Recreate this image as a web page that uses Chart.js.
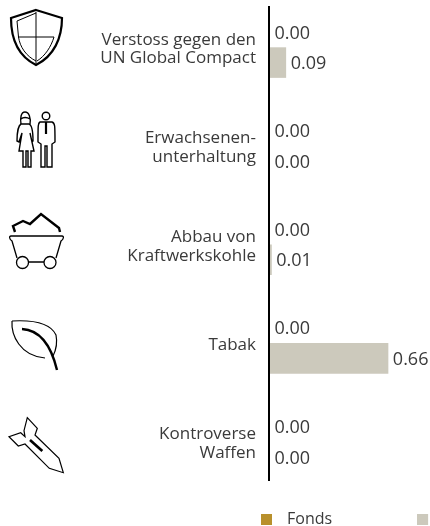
<!DOCTYPE html>
<html><head><meta charset="utf-8">
<style>
html,body{margin:0;padding:0;background:#fff;width:430px;height:526px;overflow:hidden}
#wrap{position:absolute;left:0;top:-2px;width:530px;height:528px}
svg{position:absolute;left:0;top:0}
</style>
<script src="https://cdn.jsdelivr.net/npm/chart.js@4"></script>
</head><body>
<div id="wrap"><canvas id="c" width="530" height="528"></canvas></div>
<svg width="215" height="526" fill="none" stroke="#000" stroke-linejoin="miter">
<g stroke-width="2.2"><path d="M36 10 L62 18 C62 38 54 56 36 65 C18 56 11 38 11 18 Z"/></g>
<g stroke-width="1"><path d="M36 12 V64 M18 37 H54 M36 13 L17 21 L18.5 37 C20 47 26 56 36 61 M54 37 C51 47 45 56 37 61"/></g>
<g stroke-width="1.4">
<path d="M21 124 C20 118 21 112 25 112 C29 112 31 118 30 124 M21 119 C23 117 27 117 30 119"/>
<path d="M21 124 C19 125 17 131 17 141 L19 142 L22 133 L19 151 L23 151 V167 H26 V151 H28 V167 H31 V151 H34 L30 133 L32 142 L33 141 C33 131 32 125 29 124 Z"/>
<circle cx="46" cy="116" r="3.8"/>
<path d="M40 122 C38 123 38 125 38 142 L41 144 V167 H45 V146 H47 V167 H52 V144 L55 142 C55 125 55 123 52 122 Z"/>
<path d="M46 122 V134" stroke-width="2.2"/>
</g>
<g transform="translate(0,200)">
<path d="M15 32 L13 26 L23 21 L30 24 L41 14 L59 28 L60 32" stroke-width="2.4"/>
<path d="M11 36 H62 C64 36 64 39 61 41 L56 58 M11 36 C9 36 9 39 12 41 L17 58 M28 62 H44" stroke-width="1.3"/>
<circle cx="22.500" cy="62.500" r="6" stroke-width="1.3"/><circle cx="50" cy="62.500" r="6" stroke-width="1.3"/>
<path d="M12 121 C30 120 50 122 56 135 C58 145 55 152 53 156 M12 121 C11 135 20 156 45 158" stroke-width="1.2"/>
<path d="M22 129 C40 130 51 145 57 170" stroke-width="2.4"/>
</g>
<g transform="translate(0,380)" stroke-width="1.2">
<path d="M27.300 37.700 L37.300 48.300 L35 55 L59 78.300 L63.300 92.700 L49.300 88.300 L25 64 L18.300 66 L9 56.700 L20.700 52.700 L25 56.700 L24 50.700 Z"/>
<path d="M30 60 L42.300 71" stroke-width="2.6"/>
</g>
</svg>
<script>
const categories = [["Verstoss gegen den","UN Global Compact"],["Erwachsenen-","unterhaltung"],["Abbau von","Kraftwerkskohle"],["Tabak"],["Kontroverse","Waffen"]];
const fondsValues = [0.00,0.00,0.00,0.00,0.00];
const benchmarkValues = [0.09,0.00,0.01,0.66,0.00];
const seriesNames = ["Fonds","Benchmark"];
const seriesColors = ["#b8902c","#ccc9bc"];
const FONT = '"Open Sans"';
const TXT = '#3a3a3a';
const swatch = (col)=>{const k=document.createElement('canvas');k.width=18;k.height=11;const g=k.getContext('2d');g.fillStyle=col;g.fillRect(0,0,11,11);return k;};
const valueLabels = {id:'valueLabels',afterDatasetsDraw(ch){
  const g=ch.ctx;g.save();g.font='18px '+FONT;g.fillStyle=TXT;g.textBaseline='middle';g.textAlign='left';
  ch.data.datasets.forEach((d,i)=>{ch.getDatasetMeta(i).data.forEach((b,j)=>{g.fillText(d.data[j].toFixed(2),b.x+4.5,b.y+1.5);});});
  g.restore();}};
const axisLine = {id:'axisLine',afterDatasetsDraw(ch){
  const g=ch.ctx,x=ch.scales.x.getPixelForValue(0);g.save();g.fillStyle='#000';g.fillRect(x-2,8,2,475);g.restore();}};
const legendPlace = {id:'legendPlace',afterLayout(ch){
  const L=ch.legend;L.left=176;L.right=900;L.top=428.5;L.bottom=528;}};
new Chart(document.getElementById('c'),{
 type:'bar',
 data:{labels:categories,datasets:[
  {label:seriesNames[0],data:fondsValues,backgroundColor:seriesColors[0]},
  {label:seriesNames[1],data:benchmarkValues,backgroundColor:seriesColors[1]}]},
 plugins:[valueLabels,axisLine,legendPlace],
 options:{indexAxis:'y',responsive:false,animation:false,
  categoryPercentage:0.62,barPercentage:1,
  layout:{padding:0},
  scales:{
   x:{min:0,max:1.45,display:false},
   y:{afterFit(s){s.width=270;s.paddingTop=0;s.paddingBottom=0;},border:{display:false},grid:{display:false,drawTicks:false},
      ticks:{padding:14,labelOffset:2,color:TXT,autoSkip:false,font:{family:FONT,size:17,lineHeight:1.1}}}
  },
  plugins:{tooltip:{enabled:false},
   legend:{position:'bottom',align:'start',maxHeight:35,
    labels:{usePointStyle:true,pointStyleWidth:18,boxHeight:11,padding:85,color:TXT,font:{family:FONT,size:16},
     generateLabels(ch){return ch.data.datasets.map((d,i)=>({text:d.label,fontColor:TXT,pointStyle:swatch(seriesColors[i]),datasetIndex:i,lineWidth:0,strokeStyle:'transparent',fillStyle:seriesColors[i]}));}}}}
 }
});
</script>
</body></html>
